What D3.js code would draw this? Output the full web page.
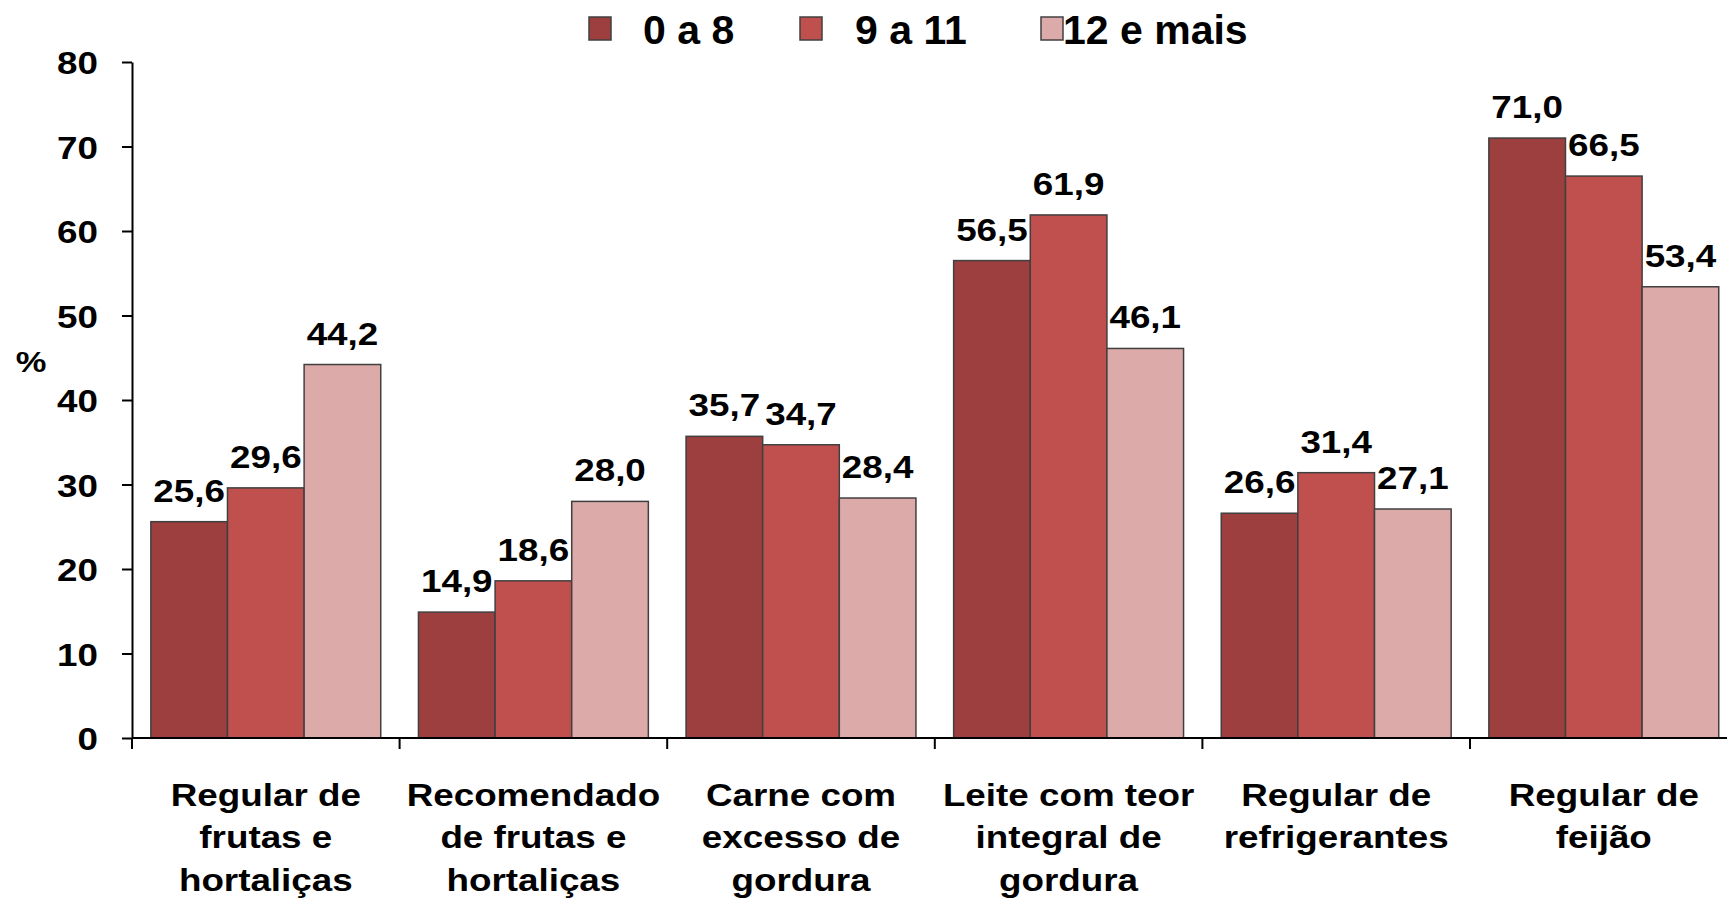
<!DOCTYPE html>
<html>
<head>
<meta charset="utf-8">
<script src="https://cdn.jsdelivr.net/npm/d3@7"></script>
<style>
  body { margin: 0; background: #fff; }
  text { font-family: "Liberation Sans", Arial, sans-serif; font-weight: bold; fill: #000; }
</style>
</head>
<body>
<div id="chart"></div>
<script>
// Data
var categories = [
  ["Regular de", "frutas e", "hortaliças"],
  ["Recomendado", "de frutas e", "hortaliças"],
  ["Carne com", "excesso de", "gordura"],
  ["Leite com teor", "integral de", "gordura"],
  ["Regular de", "refrigerantes"],
  ["Regular de", "feijão"]
];
var seriesNames = ["0 a 8", "9 a 11", "12 e mais"];
var values0a8 = [25.6, 14.9, 35.7, 56.5, 26.6, 71.0];
var values9a11 = [29.6, 18.6, 34.7, 61.9, 31.4, 66.5];
var values12mais = [44.2, 28.0, 28.4, 46.1, 27.1, 53.4];
var yTicks = [0, 10, 20, 30, 40, 50, 60, 70, 80];

// Layout
var width = 1727;
var height = 898;
var plot = { left: 132, right: 1737.6, top: 62, bottom: 738 };
var colors = ["#9c3f3e", "#c0504d", "#dbaaa9"];
var stretch = 1.15;

var svg = d3.select("#chart")
  .append("svg")
  .attr("width", width)
  .attr("height", height);

var catKeys = categories.map(function (c, i) { return "c" + i; });
var allSeries = [values0a8, values9a11, values12mais];

// Scales
var x0 = d3.scaleBand()
  .domain(catKeys)
  .range([plot.left, plot.right])
  .padding(0);

var x1 = d3.scaleBand()
  .domain(seriesNames)
  .range([0, x0.bandwidth()])
  .paddingInner(0)
  .paddingOuter(0.246);

var y = d3.scaleLinear()
  .domain([0, 80])
  .range([plot.bottom, plot.top]);

// Build rows for bars
var rows = [];
catKeys.forEach(function (k, i) {
  seriesNames.forEach(function (s, j) {
    rows.push({ cat: k, series: s, idx: j, value: allSeries[j][i] });
  });
});

// Bars
svg.append("g").selectAll("rect")
  .data(rows)
  .enter().append("rect")
  .attr("x", function (d) { return x0(d.cat) + x1(d.series); })
  .attr("y", function (d) { return y(d.value); })
  .attr("width", x1.bandwidth())
  .attr("height", function (d) { return y(0) - y(d.value); })
  .attr("fill", function (d) { return colors[d.idx]; })
  .attr("stroke", "#404040")
  .attr("stroke-width", 1.5);

// Value labels
svg.append("g").selectAll("text")
  .data(rows)
  .enter().append("text")
  .attr("transform", function (d) {
    var cx = x0(d.cat) + x1(d.series) + x1.bandwidth() / 2;
    return "translate(" + cx + "," + (y(d.value) - 20) + ") scale(" + stretch + ",1)";
  })
  .attr("text-anchor", "middle")
  .style("font-size", "32px")
  .text(function (d) { return d.value.toFixed(1).replace(".", ","); });

// Y axis
var yAxis = svg.append("g")
  .attr("transform", "translate(" + plot.left + ",0)")
  .call(d3.axisLeft(y).tickValues(yTicks).tickSize(10).tickSizeOuter(0).tickPadding(24));

yAxis.select(".domain").attr("stroke", "#000").attr("stroke-width", 2);
yAxis.selectAll(".tick line").attr("stroke", "#000").attr("stroke-width", 2);
yAxis.selectAll(".tick text")
  .attr("x", -34 / stretch)
  .attr("dy", "0.36em")
  .attr("transform", "scale(" + stretch + ",1)")
  .style("font-size", "32px")
  .style("font-family", "'Liberation Sans', Arial, sans-serif")
  .style("font-weight", "bold");

// Y axis title
svg.append("text")
  .attr("transform", "translate(31,372) scale(" + stretch + ",1)")
  .attr("text-anchor", "middle")
  .style("font-size", "30px")
  .text("%");

// X axis baseline and boundary ticks
svg.append("line")
  .attr("x1", plot.left)
  .attr("x2", plot.right)
  .attr("y1", y(0))
  .attr("y2", y(0))
  .attr("stroke", "#000")
  .attr("stroke-width", 2);

var boundaries = catKeys.map(function (k) { return x0(k); }).concat([plot.right]);
svg.append("g").selectAll("line")
  .data(boundaries)
  .enter().append("line")
  .attr("x1", function (d) { return d; })
  .attr("x2", function (d) { return d; })
  .attr("y1", y(0))
  .attr("y2", y(0) + 11)
  .attr("stroke", "#000")
  .attr("stroke-width", 2);

// Category labels
var catLabels = svg.append("g").selectAll("g")
  .data(categories)
  .enter().append("g")
  .attr("transform", function (d, i) {
    return "translate(" + (x0(catKeys[i]) + x0.bandwidth() / 2) + ",806) scale(" + stretch + ",1)";
  });

catLabels.selectAll("text")
  .data(function (d) { return d; })
  .enter().append("text")
  .attr("y", function (d, i) { return i * 42.5; })
  .attr("text-anchor", "middle")
  .style("font-size", "32px")
  .text(function (d) { return d; });

// Legend
var legendX = [589, 800, 1041];
var legendTextX = [643, 855, 1063];
var legend = svg.append("g").selectAll("g")
  .data(seriesNames)
  .enter().append("g");

legend.append("rect")
  .attr("x", function (d, i) { return legendX[i]; })
  .attr("y", 17)
  .attr("width", 22)
  .attr("height", 23)
  .attr("fill", function (d, i) { return colors[i]; })
  .attr("stroke", "#404040")
  .attr("stroke-width", 1.5);

legend.append("text")
  .attr("x", function (d, i) { return legendTextX[i]; })
  .attr("y", 44)
  .style("font-size", "41px")
  .text(function (d) { return d; });
</script>
</body>
</html>
